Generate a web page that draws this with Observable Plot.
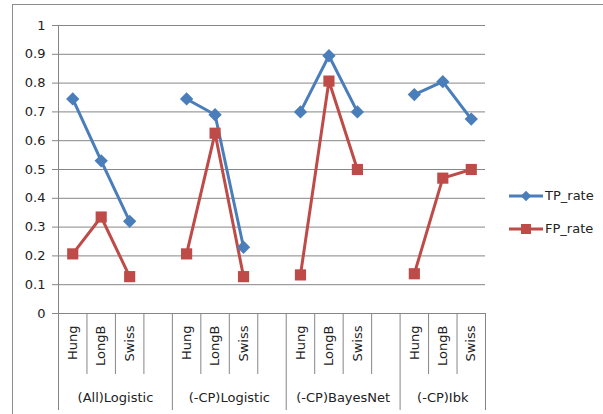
<!DOCTYPE html>
<html>
<head>
<meta charset="utf-8">
<script src="https://cdn.jsdelivr.net/npm/d3@7"></script>
<script src="https://cdn.jsdelivr.net/npm/@observablehq/plot@0.6"></script>
<style>
  html, body { margin: 0; padding: 0; background: #fff; }
  #wrap { position: relative; width: 603px; height: 414px; overflow: hidden; font-family: "DejaVu Sans", sans-serif; }
  #frame { position: absolute; left: 12px; top: 4px; width: 700px; height: 500px; border-left: 1px solid #8c8c8c; border-top: 1px solid #8c8c8c; }
  #chart { position: absolute; left: 0; top: 0; }
  #legend { position: absolute; left: 509px; top: 179px; font-size: 13px; color: #222; }
  .item { display: flex; align-items: center; height: 33px; }
  .item svg { margin-right: 2px; }
</style>
</head>
<body>
<div id="wrap">
  <div id="frame"></div>
  <div id="chart"></div>
  <div id="legend"></div>
</div>
<script>
// Classifier groups and the three sites evaluated under each
const groups = ["(All)Logistic", "(-CP)Logistic", "(-CP)BayesNet", "(-CP)Ibk"];
const sites = ["Hung", "LongB", "Swiss"];
// Rates per group, in site order
const tpRate = [0.745, 0.53, 0.32, 0.745, 0.69, 0.23, 0.70, 0.895, 0.70, 0.76, 0.805, 0.675];
const fpRate = [0.207, 0.335, 0.128, 0.207, 0.626, 0.128, 0.134, 0.807, 0.50, 0.138, 0.47, 0.50];
const yTicks = [0, 0.1, 0.2, 0.3, 0.4, 0.5, 0.6, 0.7, 0.8, 0.9, 1];

const series = [
  {name: "TP_rate", values: tpRate, color: "#4a7ebb", symbol: "diamond2", r: 6},
  {name: "FP_rate", values: fpRate, color: "#be4b48", symbol: "square", r: 6.3}
];

// Each group occupies four slots (three sites plus a spacer), the last group only three
const slotsPerGroup = 4;
const nSlots = groups.length * slotsPerGroup - 1;
const rows = groups.flatMap((g, gi) => sites.map((s, ci) => ({
  group: g, site: s, gi, x: gi * slotsPerGroup + ci + 0.5
})));
const points = series.flatMap(se => rows.map((r, i) => ({...r, series: se.name, value: se.values[i], key: se.name + r.gi})));

const groupBounds = d3.range(groups.length).map(g => g * slotsPerGroup).concat([nSlots]);
const innerBounds = rows.map(r => r.x + 0.5).filter(b => !groupBounds.includes(b));
const groupLabels = groups.map((g, gi) => {
  const lo = gi * slotsPerGroup, hi = Math.min(lo + slotsPerGroup, nSlots);
  return {group: g, x: (lo + hi) / 2};
});

const axisColor = "#868686";
const textColor = "#222";

const chart = Plot.plot({
  width: 603,
  height: 414,
  marginLeft: 58,
  marginRight: 118,
  marginTop: 25,
  marginBottom: 101,
  style: {fontFamily: "DejaVu Sans, sans-serif", fontSize: "13px", background: "transparent", overflow: "visible"},
  x: {domain: [0, nSlots], label: null},
  y: {domain: [0, 1], label: null},
  marks: [
    Plot.gridY(yTicks.filter(d => d > 0), {stroke: axisColor, strokeOpacity: 1, strokeWidth: 1}),
    Plot.ruleX([0], {stroke: axisColor}),
    Plot.ruleY([0], {stroke: axisColor}),
    Plot.axisY(yTicks, {tickSize: 6, tickPadding: 7, stroke: axisColor, fill: textColor, label: null, tickFormat: d => String(+d.toFixed(1))}),
    Plot.axisX(innerBounds, {tickSize: 61, stroke: axisColor, label: null, tickFormat: () => ""}),
    Plot.axisX(groupBounds, {tickSize: 97, stroke: axisColor, label: null, tickFormat: () => ""}),
    Plot.text(rows, {x: "x", text: "site", frameAnchor: "bottom", dy: 12, rotate: -90, textAnchor: "end", lineAnchor: "middle", fill: textColor}),
    Plot.text(groupLabels, {x: "x", text: "group", frameAnchor: "bottom", dy: 84, lineAnchor: "middle", fill: textColor}),
    ...series.map(se => Plot.line(points.filter(p => p.series === se.name), {
      x: "x", y: "value", z: "key", stroke: se.color, strokeWidth: 3, strokeLinejoin: "round"
    })),
    ...series.map(se => Plot.dot(points.filter(p => p.series === se.name), {
      x: "x", y: "value", symbol: () => se.symbol, r: se.r, fill: se.color, stroke: "none"
    }))
  ]
});
document.getElementById("chart").append(chart);

// Legend: line swatch with the series marker, then the series name
const legend = d3.select("#legend");
for (const se of series) {
  const item = legend.append("div").attr("class", "item");
  const svg = item.append("svg").attr("width", 34).attr("height", 14);
  svg.append("line").attr("x1", 0).attr("x2", 34).attr("y1", 7).attr("y2", 7)
    .attr("stroke", se.color).attr("stroke-width", 3);
  svg.append("path").attr("transform", "translate(17,7)")
    .attr("d", d3.symbol(se.symbol === "square" ? d3.symbolSquare : d3.symbolDiamond2, se.symbol === "square" ? 100 : 70)())
    .attr("fill", se.color);
  item.append("span").text(se.name);
}
</script>
</body>
</html>
